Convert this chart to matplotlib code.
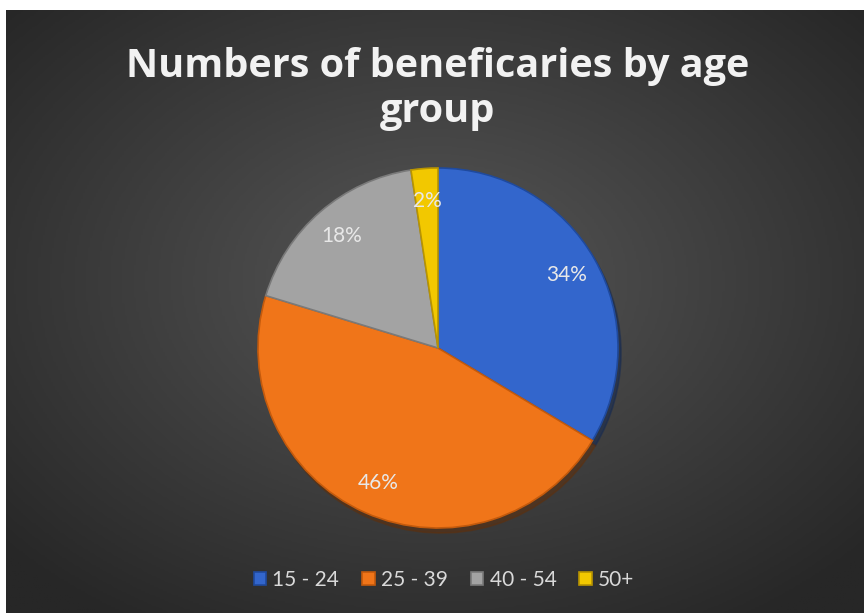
import numpy as np
import matplotlib
matplotlib.use("Agg")
import matplotlib.pyplot as plt
from matplotlib.colors import LinearSegmentedColormap

categories = ["15 - 24", "25 - 39", "40 - 54", "50+"]
values = [33.6, 46.1, 17.9, 2.4]
colors = ["#3366cc", "#f07519", "#a3a3a3", "#f2c800"]
edge_colors = ["#1f4a9e", "#c45a0c", "#7a7a7a", "#b89400"]
title = "Numbers of beneficaries by age\ngroup"

W, H = 864, 613
fig = plt.figure(figsize=(W / 100, H / 100), dpi=100, facecolor="white")

# dark radial gradient background panel
x0 = 6 / W
bg = fig.add_axes([x0, 0, 1 - x0, (H - 10) / H])
bg.set_axis_off()
nx, ny = 400, 300
gx, gy = np.meshgrid(np.linspace(0, 1, nx), np.linspace(0, 1, ny))
d = np.sqrt(((gx - 0.5) / 0.75) ** 2 + ((gy - 0.55) / 0.75) ** 2)
d = np.clip(d / 0.9, 0, 1)
cmap = LinearSegmentedColormap.from_list("bg", ["#575757", "#272727"])
bg.imshow(d, cmap=cmap, aspect="auto", extent=[0, 1, 0, 1], origin="lower", vmin=0, vmax=1)
bg.set_xlim(0, 1)
bg.set_ylim(0, 1)

# pie
r_px = 180
cx, cy = 438, H - 348
ax = fig.add_axes([(cx - r_px) / W, (cy - r_px) / H, 2 * r_px / W, 2 * r_px / H])
ax.set_axis_off()
wedges, texts, autotexts = ax.pie(
    values, colors=colors, startangle=90, counterclock=False,
    autopct=lambda p: f"{p:.0f}%", pctdistance=0.82, radius=1.0,
    wedgeprops=dict(linewidth=1.2),
    shadow=dict(ox=0.012, oy=-0.02, shade=0.6, alpha=0.5),
    textprops=dict(color="#e8e8e8", fontsize=15, family="Lato"),
)
for w, ec in zip(wedges, edge_colors):
    w.set_edgecolor(ec)
ax.set_xlim(-1, 1)
ax.set_ylim(-1, 1)
ax.set_aspect("equal")

# title
fig.text(cx / W, 1 - 89 / H, title, ha="center", va="center", color="#f2f2f2",
         fontsize=28.5, fontweight="bold", family="Open Sans", linespacing=1.22)

# legend
leg = fig.legend(wedges, categories, loc="center", bbox_to_anchor=(444 / W, 1 - 580 / H),
                 ncol=4, frameon=False, handlelength=0.6, handleheight=0.6,
                 handletextpad=0.3, columnspacing=1.1,
                 prop=dict(family="Lato", size=15))
for t in leg.get_texts():
    t.set_color("#d9d9d9")

fig.savefig("out.png", dpi=100, facecolor="white")
